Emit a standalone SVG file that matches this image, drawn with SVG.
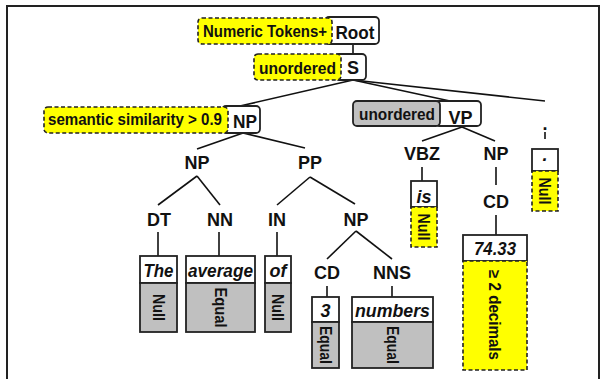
<svg xmlns="http://www.w3.org/2000/svg" width="613" height="379" viewBox="0 0 613 379">
  <style>
    .lbl { font-family: "Liberation Sans", Arial, sans-serif; font-weight: bold; font-size: 18px; text-anchor: middle; fill: #111; }
    .tok { font-family: "Liberation Sans", Arial, sans-serif; font-weight: bold; font-style: italic; font-size: 18px; text-anchor: middle; fill: #111; }
    .ann { font-family: "Liberation Sans", Arial, sans-serif; font-weight: bold; font-size: 16px; text-anchor: middle; fill: #111; }
    .ln { stroke: #111; stroke-width: 1.6; fill: none; }
    .box { fill: #fff; stroke: #222; stroke-width: 1.8; }
    .gray { fill: #c0c0c0; stroke: #222; stroke-width: 1.8; }
    .yel { fill: #ffff00; stroke: #222; stroke-width: 1.6; stroke-dasharray: 4 2.5; }
    .frame { fill: none; stroke: #222; stroke-width: 2; }
  </style>

  <!-- outer frame -->
  <path class="frame" d="M7,379 V6 H599 V379"/>

  <!-- connectors -->
  <g id="connectors">
    <line class="ln" x1="353" y1="44" x2="353" y2="54"/>
    <line class="ln" x1="353" y1="80" x2="240" y2="106"/>
    <line class="ln" x1="353" y1="80" x2="450" y2="101"/>
    <line class="ln" x1="353" y1="80" x2="545" y2="101"/>
    <line class="ln" x1="243" y1="133" x2="197" y2="149"/>
    <line class="ln" x1="243" y1="133" x2="305" y2="148"/>
    <line class="ln" x1="197" y1="176" x2="158" y2="205"/>
    <line class="ln" x1="197" y1="176" x2="220" y2="205"/>
    <line class="ln" x1="310" y1="177" x2="277" y2="205"/>
    <line class="ln" x1="310" y1="177" x2="355" y2="204"/>
    <line class="ln" x1="356" y1="231" x2="327" y2="259"/>
    <line class="ln" x1="356" y1="231" x2="392" y2="259"/>
    <line class="ln" x1="462" y1="127" x2="422" y2="141"/>
    <line class="ln" x1="462" y1="127" x2="495" y2="141"/>
    <line class="ln" x1="496" y1="167" x2="496" y2="185"/>
    <line class="ln" x1="158" y1="232" x2="158" y2="256"/>
    <line class="ln" x1="219" y1="232" x2="219" y2="256"/>
    <line class="ln" x1="277" y1="232" x2="277" y2="256"/>
    <line class="ln" x1="327" y1="286" x2="327" y2="297"/>
    <line class="ln" x1="392" y1="286" x2="392" y2="297"/>
    <line class="ln" x1="422" y1="167" x2="422" y2="181"/>
    <line class="ln" x1="496" y1="215" x2="496" y2="235"/>
    <line class="ln" x1="545" y1="132" x2="545" y2="139"/>
  </g>

  <!-- phrase nodes -->
  <g id="root">
    <rect class="box" x="325" y="17" width="54" height="27" rx="4"/>
    <rect class="yel" x="198" y="18" width="134" height="26" rx="4"/>
    <text class="ann" x="265" y="37" textLength="124" lengthAdjust="spacingAndGlyphs">Numeric Tokens+</text>
    <text class="lbl" x="355" y="39" textLength="39" lengthAdjust="spacingAndGlyphs">Root</text>
  </g>
  <g id="s">
    <rect class="box" x="335" y="54" width="31" height="26" rx="4"/>
    <rect class="yel" x="254" y="54" width="87" height="26" rx="4"/>
    <text class="ann" x="297.5" y="74" textLength="77" lengthAdjust="spacingAndGlyphs">unordered</text>
    <text class="lbl" x="353" y="74">S</text>
  </g>
  <g id="np-top">
    <rect class="box" x="222" y="106" width="38" height="27" rx="4"/>
    <rect class="yel" x="44" y="107" width="184" height="26" rx="4"/>
    <text class="ann" x="135" y="125" textLength="174" lengthAdjust="spacingAndGlyphs">semantic similarity &gt; 0.9</text>
    <text class="lbl" x="245" y="128" textLength="24" lengthAdjust="spacingAndGlyphs">NP</text>
  </g>
  <g id="vp">
    <rect class="box" x="435" y="101" width="46" height="25" rx="4"/>
    <rect class="gray" x="353" y="101" width="87" height="25" rx="4"/>
    <text class="ann" x="397" y="120" textLength="76" lengthAdjust="spacingAndGlyphs">unordered</text>
    <text class="lbl" x="460.5" y="124">VP</text>
  </g>
  <g id="np-left"><text class="lbl" x="197" y="169">NP</text></g>
  <g id="pp"><text class="lbl" x="310" y="169">PP</text></g>
  <g id="dt"><text class="lbl" x="159" y="226">DT</text></g>
  <g id="nn"><text class="lbl" x="220" y="226">NN</text></g>
  <g id="in"><text class="lbl" x="277" y="226">IN</text></g>
  <g id="np-pp"><text class="lbl" x="356" y="226">NP</text></g>
  <g id="cd-3"><text class="lbl" x="327" y="279">CD</text></g>
  <g id="nns"><text class="lbl" x="392" y="279">NNS</text></g>
  <g id="vbz"><text class="lbl" x="422" y="160">VBZ</text></g>
  <g id="np-vp"><text class="lbl" x="496" y="160">NP</text></g>
  <g id="cd-num"><text class="lbl" x="496" y="208">CD</text></g>
  <g id="punct"><text class="lbl" x="545" y="130">.</text></g>

  <!-- token boxes -->
  <g id="tok-the">
    <rect class="box" x="140" y="256" width="37" height="27"/>
    <rect class="gray" x="140" y="283" width="37" height="49"/>
    <text class="tok" x="158.5" y="277" textLength="30" lengthAdjust="spacingAndGlyphs">The</text>
    <text class="ann" transform="translate(158.5,307.5) rotate(90)" dy="0.35em" textLength="27" lengthAdjust="spacingAndGlyphs">Null</text>
  </g>
  <g id="tok-average">
    <rect class="box" x="186" y="256" width="69" height="27"/>
    <rect class="gray" x="186" y="283" width="69" height="49"/>
    <text class="tok" x="220.5" y="277" textLength="65" lengthAdjust="spacingAndGlyphs">average</text>
    <text class="ann" transform="translate(220.5,307.5) rotate(90)" dy="0.35em" textLength="40" lengthAdjust="spacingAndGlyphs">Equal</text>
  </g>
  <g id="tok-of">
    <rect class="box" x="265" y="256" width="26" height="27"/>
    <rect class="gray" x="265" y="283" width="26" height="49"/>
    <text class="tok" x="278" y="277">of</text>
    <text class="ann" transform="translate(278,307.5) rotate(90)" dy="0.35em" textLength="27" lengthAdjust="spacingAndGlyphs">Null</text>
  </g>
  <g id="tok-3">
    <rect class="box" x="312" y="297" width="27" height="25"/>
    <rect class="gray" x="312" y="322" width="27" height="46"/>
    <text class="tok" x="325.5" y="317">3</text>
    <text class="ann" transform="translate(325.5,345) rotate(90)" dy="0.35em" textLength="38" lengthAdjust="spacingAndGlyphs">Equal</text>
  </g>
  <g id="tok-numbers">
    <rect class="box" x="352" y="297" width="81" height="25"/>
    <rect class="gray" x="352" y="322" width="81" height="46"/>
    <text class="tok" x="392.5" y="317" textLength="75" lengthAdjust="spacingAndGlyphs">numbers</text>
    <text class="ann" transform="translate(392.5,345) rotate(90)" dy="0.35em" textLength="38" lengthAdjust="spacingAndGlyphs">Equal</text>
  </g>
  <g id="tok-is">
    <rect class="box" x="411" y="181" width="26" height="26"/>
    <rect class="yel" x="411" y="207" width="26" height="40"/>
    <text class="tok" x="424" y="203">is</text>
    <text class="ann" transform="translate(424,227) rotate(90)" dy="0.35em" textLength="27" lengthAdjust="spacingAndGlyphs">Null</text>
  </g>
  <g id="tok-7433">
    <rect class="box" x="463" y="235" width="64" height="26"/>
    <rect class="yel" x="463" y="261" width="64" height="109"/>
    <text class="tok" x="495" y="255" textLength="42" lengthAdjust="spacingAndGlyphs">74.33</text>
    <text class="ann" transform="translate(495,315) rotate(90)" dy="0.35em" textLength="90" lengthAdjust="spacingAndGlyphs">≥ 2 decimals</text>
  </g>
  <g id="tok-period">
    <rect class="box" x="532" y="149" width="26" height="22"/>
    <rect class="yel" x="532" y="171" width="26" height="40"/>
    <text class="tok" x="545" y="161">.</text>
    <text class="ann" transform="translate(545,191) rotate(90)" dy="0.35em" textLength="27" lengthAdjust="spacingAndGlyphs">Null</text>
  </g>
</svg>
